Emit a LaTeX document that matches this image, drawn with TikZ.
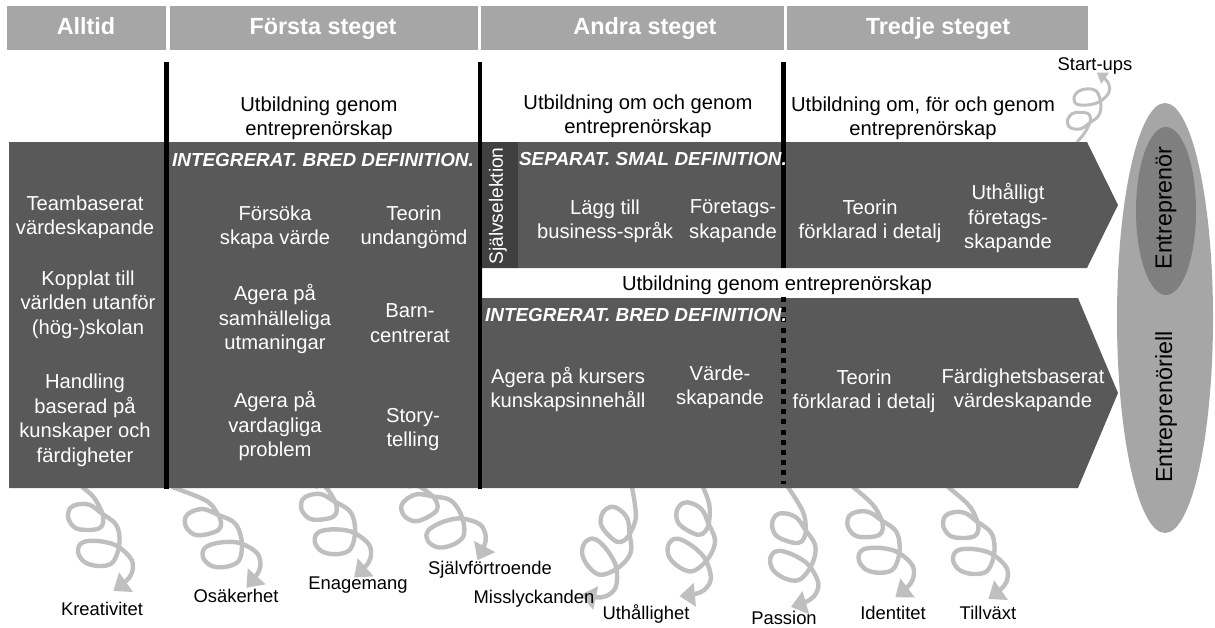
\documentclass[tikz,border=0pt]{standalone}
\usepackage{fontspec}
\setmainfont{Liberation Sans}
\usepackage{tikz}
\usetikzlibrary{arrows.meta}
\usetikzlibrary{positioning}

\begin{document}
\begin{tikzpicture}[x=1pt,y=-1pt,every text node part/.style={align=center},
  every node/.style={inner sep=0pt},
  head/.style={text=white,text height=17pt,text depth=5pt,font=\fontsize{23.4}{28}\selectfont\bfseries},
  bartext/.style={yshift=-2.3pt,font=\fontsize{20.2}{24.5}\selectfont},
  bandtext/.style={bartext,text=white},
  deftext/.style={text=white,font=\fontsize{18.9}{22}\selectfont\bfseries\itshape},
  curltext/.style={font=\fontsize{18.4}{22}\selectfont},
  sidetext/.style={rotate=90,font=\fontsize{23.3}{28}\selectfont},
  curled/.style={draw=curlgray,line width=4.4pt,line join=round,-{Triangle[width=23pt,length=15.5pt]}},
  headbar/.style={fill=headgray}]

  \definecolor{headgray}{HTML}{A6A6A6}
  \definecolor{bandgray}{HTML}{595959}
  \definecolor{selgray}{HTML}{404040}
  \definecolor{curlgray}{HTML}{BFBFBF}
  \definecolor{innergray}{HTML}{7F7F7F}

  \useasboundingbox (0,0) rectangle (1215,627);

  \def \coil #1{plot[smooth,tension=.6] coordinates {(#1) (1.3,-38.3) (9.7,-23.3)
      (11.3,-13.3) (7.3,-6.7) (-5.3,-5) (-17,-7.3) (-23.7,-16.7) (-22,-26.7)
      (-13.7,-30.7) (-2,-30) (9.7,-21.7) (23,-11.7) (27.3,0) (26.3,15) (19.7,28.3)
      (6.3,31) (-7,27.3) (-13.7,18.3) (-12,9.3) (-3.7,6) (11.3,6.7) (26.3,11.7)
      (39.7,25) (39.7,38.3) (33,47) (21.3,56)}}

  % header
  \fill[headbar] (7,6) rectangle (166,50);
  \fill[headbar] (170,6) rectangle (478,50);
  \fill[headbar] (481,6) rectangle (784,50);
  \fill[headbar] (787,6) rectangle (1088,50);
  \node[head] (alltid) at (86,28) {Alltid};
  \node[head] (forsta) at (323,28) {Första steget};
  \node[head] (andra) at (645,28) {Andra steget};
  \node[head] (tredje) at (938,28) {Tredje steget};

  % curls
  \coordinate (c1) at (82,487);
  \coordinate (c2) at (172,487);
  \coordinate (c3) at (315,487);
  \coordinate (c4) at (408,487);
  \coordinate (c5) at (632,487);
  \coordinate (c6) at (703,487);
  \coordinate (c7) at (788,487);
  \coordinate (c8) at (853,487);
  \coordinate (c9) at (948,487);
  \coordinate (c10) at (1077,142);
  \draw[curled,shift={(92,535)}] \coil{c1};
  \draw[curled,shift={(213,538)},rotate=13] \coil{c2};
  \draw[curled,shift={(327,524)},rotate=6] \coil{c3};
  \draw[curled,shift={(433,520)},rotate=27] \coil{c4};
  \draw[curled,shift={(607,541)},rotate=-47] \coil{c5};
  \draw[curled,shift={(689,537)},rotate=-30] \coil{c6};
  \draw[curled,shift={(789,547)},rotate=-19] \coil{c7};
  \draw[curled,shift={(872,542)},rotate=2] \coil{c8};
  \draw[curled,shift={(967,543)}] \coil{c9};
  \draw[curled,line width=3pt,-{Triangle[width=13pt,length=10pt]},shift={(1083,109)},xscale=.65,yscale=-.65] \coil{c10};

  \node[curltext] (kreativitet) at (102,609) {Kreativitet};
  \node[curltext] (osakerhet) at (236,596) {Osäkerhet};
  \node[curltext] (enagemang) at (358,585) {Enagemang};
  \node[curltext] (sjalvfortroende) at (490,570) {Självförtroende};
  \node[curltext] (misslyckanden) at (534,599) {Misslyckanden};
  \node[curltext] (uthallighet) at (646,614) {Uthållighet};
  \node[curltext] (passion) at (784,618) {Passion};
  \node[curltext] (identitet) at (893,613) {Identitet};
  \node[curltext] (tillvaxt) at (988,613) {Tillväxt};
  \node[curltext] (startups) at (1095,66) {Start-ups};

  % ellipses
  \fill[headgray] (1165,318) ellipse [x radius=48pt,y radius=215pt];
  \fill[innergray] (1166,211) ellipse [x radius=30pt,y radius=84pt];
  \node[sidetext] (entreprenor) at (1166,208) {Entreprenör};
  \node[sidetext] (entreprenoriell) at (1166,407) {Entreprenöriell};

  % bands
  \fill[bandgray] (9,142) -- (1087,142) -- (1118,205) -- (1087,268) -- (482,268)
  -- (482,298) -- (1078,298) -- (1118,393) -- (1078,488) -- (9,488) -- cycle;
  \fill[selgray] (482,142) rectangle (518,268);

  % bars
  \fill (164,62) rectangle (168.5,489);
  \fill (477.5,62) rectangle (482,489);
  \fill (781,62) rectangle (786,268);
  \draw[line width=5pt,dash pattern=on 5pt off 5.2pt] (783.5,297) -- (783.5,484);

  \node[bartext] (gen1) at (319,116) {Utbildning genom\\entreprenörskap};
  \node[bartext] (gen2) at (638,114) {Utbildning om och genom\\entreprenörskap};
  \node[bartext] (gen3) at (923,116) {Utbildning om, för och genom\\entreprenörskap};
  \node[bartext] (gen4) at (777,283) {Utbildning genom entreprenörskap};

  % alltid
  \node[bandtext] (team) at (85,215) {Teambaserat\\värdeskapande};
  \node[bandtext] (kopplat) at (88,302) {Kopplat till\\världen utanför\\(hög-)skolan};
  \node[bandtext] (handling) at (85,418) {Handling\\baserad på\\kunskaper och\\färdigheter};

  % forsta
  \node[deftext] (int1) at (323,160) {INTEGRERAT. BRED DEFINITION.};
  \node[bandtext] (forsoka) at (275,225) {Försöka\\skapa värde};
  \node[bandtext] (teorin1) at (414,225) {Teorin\\undangömd};
  \node[bandtext] (agera1) at (275,317) {Agera på\\samhälleliga\\utmaningar};
  \node[bandtext] (barn) at (410,321) {Barn-\\centrerat};
  \node[bandtext] (agera2) at (275,424) {Agera på\\vardagliga\\problem};
  \node[bandtext] (story) at (413,427) {Story-\\telling};

  % andra
  \node[text=white,rotate=90,font=\fontsize{19.2}{23}\selectfont] (sjalv) at (498,206) {Självselektion};
  \node[deftext] (sep) at (653,159) {SEPARAT. SMAL DEFINITION.};
  \node[bandtext] (lagg) at (605,219) {Lägg till\\business-språk};
  \node[bandtext] (foretag1) at (733,219) {Företags-\\skapande};
  \node[deftext] (int2) at (636,315) {INTEGRERAT. BRED DEFINITION.};
  \node[bandtext] (agera3) at (568,387) {Agera på kursers\\kunskapsinnehåll};
  \node[bandtext] (varde) at (720,385) {Värde-\\skapande};

  % tredje
  \node[bandtext] (teorin2) at (870,219) {Teorin\\förklarad i detalj};
  \node[bandtext] (foretag2) at (1008,216) {Uthålligt\\företags-\\skapande};
  \node[bandtext] (teorin3) at (864,389) {Teorin\\förklarad i detalj};
  \node[bandtext] (fardig) at (1023,388) {Färdighetsbaserat\\värdeskapande};
\end{tikzpicture}
\end{document}
